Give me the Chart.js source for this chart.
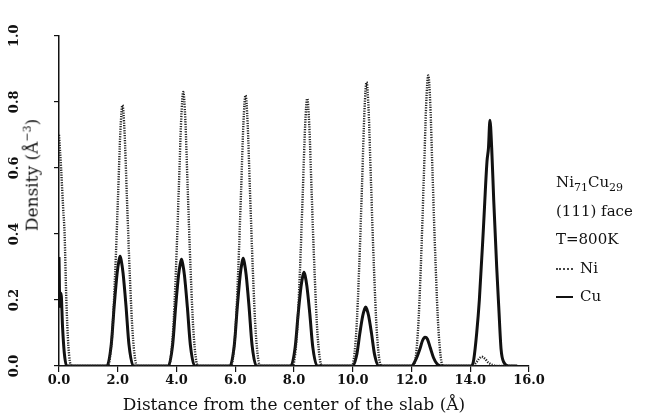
<!DOCTYPE html>
<html>
<head>
<meta charset="utf-8">
<script src="https://cdn.jsdelivr.net/npm/chart.js@4.4.1/dist/chart.umd.min.js"></script>
<style>
  body { margin: 0; background: #fff; }
  #wrap { position: relative; width: 648px; height: 416px; }
  .serif { font-family: "DejaVu Serif", "Liberation Serif", serif; color: #111; }
  #ytitle { position: absolute; left: 31px; top: 175px; transform: translate(-50%, -50%) rotate(-90deg); font-size: 17px; white-space: nowrap; }
  #legend { position: absolute; left: 556px; top: 168px; font-size: 15px; line-height: 28.5px; }
  #legend sub { font-size: 11px; vertical-align: -4px; line-height: 0; }
  .key { display: inline-block; width: 17px; margin-right: 7px; vertical-align: middle; }
</style>
</head>
<body>
<div id="wrap">
  <canvas id="grafico" width="648" height="416"></canvas>
  <div id="ytitle" class="serif">Density (Å<sup style="font-size:11px">−3</sup>)</div>
  <div id="legend" class="serif">
    <div>Ni<sub>71</sub>Cu<sub>29</sub></div>
    <div>(111) face</div>
    <div>T=800K</div>
    <div><span class="key" style="border-top:2px dotted #444"></span>Ni</div>
    <div><span class="key" style="border-top:2px solid #111"></span>Cu</div>
  </div>
</div>
<script>
// Perfis de densidade (distância em Å, densidade em Å^-3)
const niDistance = [0, 0.07, 0.14, 0.19, 0.25, 0.32, 0.42,
  1.66, 1.81, 1.91, 2.01, 2.09, 2.16, 2.23, 2.31, 2.41, 2.51, 2.66,
  3.73, 3.88, 3.98, 4.08, 4.16, 4.23, 4.30, 4.38, 4.48, 4.58, 4.73,
  5.85, 6.00, 6.10, 6.20, 6.28, 6.35, 6.42, 6.50, 6.60, 6.70, 6.85,
  7.95, 8.10, 8.20, 8.30, 8.38, 8.45, 8.52, 8.60, 8.70, 8.80, 8.95,
  9.97, 10.12, 10.22, 10.32, 10.40, 10.47, 10.54, 10.62, 10.72, 10.82, 10.97,
  12.07, 12.22, 12.32, 12.42, 12.50, 12.57, 12.64, 12.72, 12.82, 12.92, 13.07,
  14.05, 14.2, 14.3, 14.39, 14.5, 14.62, 14.8, 14.9, 15.5];
const niDensity = [0.70, 0.60, 0.48, 0.40, 0.20, 0.06, 0,
  0, 0.095, 0.277, 0.514, 0.711, 0.79, 0.711, 0.514, 0.277, 0.095, 0,
  0, 0.10, 0.29, 0.54, 0.747, 0.83, 0.747, 0.54, 0.29, 0.10, 0,
  0, 0.098, 0.287, 0.533, 0.738, 0.82, 0.738, 0.533, 0.287, 0.098, 0,
  0, 0.097, 0.284, 0.527, 0.729, 0.81, 0.729, 0.527, 0.284, 0.097, 0,
  0, 0.103, 0.301, 0.559, 0.774, 0.86, 0.774, 0.559, 0.301, 0.103, 0,
  0, 0.106, 0.308, 0.572, 0.792, 0.88, 0.792, 0.572, 0.308, 0.106, 0,
  0, 0.01, 0.022, 0.028, 0.022, 0.01, 0.002, 0, 0];

const cuDistance = [0, 0.03, 0.07, 0.12, 0.18, 0.26,
  1.63, 1.78, 1.88, 1.98, 2.04, 2.08, 2.12, 2.18, 2.28, 2.38, 2.53,
  3.72, 3.87, 3.97, 4.07, 4.13, 4.17, 4.21, 4.27, 4.37, 4.47, 4.62,
  5.82, 5.97, 6.07, 6.17, 6.23, 6.27, 6.31, 6.37, 6.47, 6.57, 6.72,
  7.89, 8.04, 8.14, 8.24, 8.30, 8.34, 8.38, 8.44, 8.54, 8.64, 8.79,
  9.99, 10.14, 10.24, 10.34, 10.40, 10.44, 10.48, 10.54, 10.64, 10.74, 10.89,
  12.0, 12.15, 12.28, 12.38, 12.46, 12.54, 12.64, 12.75, 12.88, 13.0,
  14.05, 14.12, 14.22, 14.31, 14.45, 14.57, 14.62, 14.67, 14.73, 14.8, 14.9, 14.97, 15.05, 15.15, 15.3, 15.6];
const cuDensity = [0.33, 0.18, 0.22, 0.12, 0.04, 0,
  0, 0.066, 0.183, 0.282, 0.319, 0.332, 0.319, 0.282, 0.183, 0.066, 0,
  0, 0.065, 0.178, 0.275, 0.310, 0.323, 0.310, 0.275, 0.178, 0.065, 0,
  0, 0.065, 0.179, 0.277, 0.313, 0.326, 0.313, 0.277, 0.179, 0.065, 0,
  0, 0.057, 0.156, 0.241, 0.273, 0.284, 0.273, 0.241, 0.156, 0.057, 0,
  0, 0.036, 0.098, 0.152, 0.172, 0.179, 0.172, 0.152, 0.098, 0.036, 0,
  0, 0.02, 0.05, 0.078, 0.087, 0.082, 0.055, 0.025, 0.005, 0,
  0, 0.02, 0.1, 0.2, 0.42, 0.62, 0.66, 0.744, 0.66, 0.5, 0.3, 0.18, 0.05, 0.01, 0, 0];

const xTicks = [0, 2, 4, 6, 8, 10, 12, 14, 16];
const yTicks = [0, 0.2, 0.4, 0.6, 0.8, 1.0];

const pontos = (xs, ys) => xs.map((x, i) => ({ x, y: ys[i] }));
const fonteTicks = { family: "DejaVu Serif", size: 13, weight: "bold" };

new Chart(document.getElementById("grafico"), {
  type: "line",
  data: {
    datasets: [
      {
        label: "Ni",
        data: pontos(niDistance, niDensity),
        borderColor: "#222",
        borderWidth: 2.4,
        borderDash: [1.2, 1.3],
        pointRadius: 0,
        cubicInterpolationMode: "monotone"
      },
      {
        label: "Cu",
        data: pontos(cuDistance, cuDensity),
        borderColor: "#111",
        borderWidth: 3,
        pointRadius: 0,
        cubicInterpolationMode: "monotone"
      }
    ]
  },
  options: {
    responsive: false,
    animation: false,
    layout: { padding: { top: 22, right: 119, left: 0, bottom: 0 } },
    plugins: { legend: { display: false }, tooltip: { enabled: false } },
    scales: {
      x: {
        type: "linear",
        min: 0,
        max: 16,
        afterFit: s => { s.height = 50; },
        afterBuildTicks: s => { s.ticks = xTicks.map(v => ({ value: v })); },
        border: { color: "#111", width: 1.5 },
        grid: { drawOnChartArea: false, drawTicks: true, tickLength: 6, color: "#111", lineWidth: 1.2 },
        ticks: { color: "#111", font: fonteTicks, padding: 1, maxRotation: 0, callback: v => v.toFixed(1) },
        title: {
          display: true,
          text: "Distance from the center of the slab (Å)",
          color: "#111",
          font: { family: "DejaVu Serif", size: 17 },
          padding: { top: 0, bottom: 0 }
        }
      },
      y: {
        min: 0,
        max: 1,
        afterFit: s => { s.width = 59; },
        afterBuildTicks: s => { s.ticks = yTicks.map(v => ({ value: v })); },
        border: { color: "#111", width: 1.5 },
        grid: { drawOnChartArea: false, drawTicks: true, tickLength: 5, color: "#111", lineWidth: 1.2 },
        ticks: { color: "#111", font: fonteTicks, padding: 28, minRotation: 90, maxRotation: 90, crossAlign: "center", callback: v => v.toFixed(1) }
      }
    }
  }
});
</script>
</body>
</html>
